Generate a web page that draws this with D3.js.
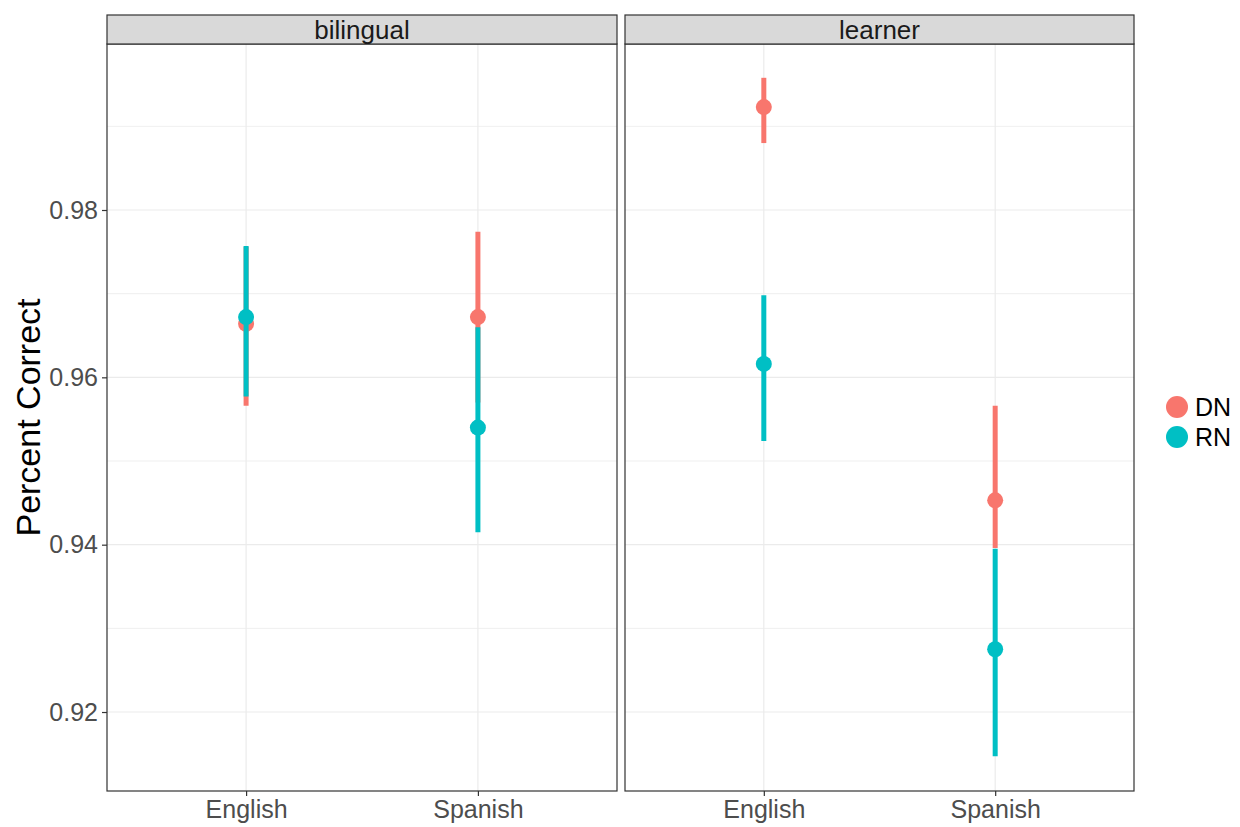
<!DOCTYPE html>
<html>
<head>
<meta charset="utf-8">
<script src="https://cdn.jsdelivr.net/npm/d3@7"></script>
<style>
  body { margin: 0; background: #fff; }
  svg { display: block; font-family: "Liberation Sans", Arial, sans-serif; }
</style>
</head>
<body>
<svg id="chart" width="1240" height="827"></svg>
<script>
// Facets, x categories and condition groups
const panels = ["bilingual", "learner"];
const languages = ["English", "Spanish"];
const conditions = ["DN", "RN"];
const yTicks = [0.92, 0.94, 0.96, 0.98];
const yMinor = [0.91, 0.93, 0.95, 0.97, 0.99];

// Mean percent correct with lower / upper interval, per panel, language, condition
const bilingualDN = [
  { lang: "English", mean: 0.9664, lo: 0.9566, hi: 0.9756 },
  { lang: "Spanish", mean: 0.9672, lo: 0.9570, hi: 0.9774 }
];
const bilingualRN = [
  { lang: "English", mean: 0.9672, lo: 0.9577, hi: 0.9757 },
  { lang: "Spanish", mean: 0.9540, lo: 0.9415, hi: 0.9660 }
];
const learnerDN = [
  { lang: "English", mean: 0.9923, lo: 0.9880, hi: 0.9958 },
  { lang: "Spanish", mean: 0.9453, lo: 0.9396, hi: 0.9566 }
];
const learnerRN = [
  { lang: "English", mean: 0.9616, lo: 0.9524, hi: 0.9698 },
  { lang: "Spanish", mean: 0.9275, lo: 0.9147, hi: 0.9395 }
];

const seriesByPanel = {
  bilingual: { DN: bilingualDN, RN: bilingualRN },
  learner: { DN: learnerDN, RN: learnerRN }
};

const colors = d3.scaleOrdinal().domain(conditions).range(["#F8766D", "#00BFC4"]);

const svg = d3.select("#chart");

const panelTop = 44, panelBottom = 791;
const stripTop = 15;
const panelX = { bilingual: [107, 617], learner: [625, 1134] };
const tickFont = 25;

const y = d3.scaleLinear()
  .domain([0.91056, 0.99984])
  .range([panelBottom, panelTop]);

panels.forEach((p, i) => {
  const [x0, x1] = panelX[p];
  // discrete axis with 0.6 of a step of space on each side
  const x = d3.scalePoint().domain(languages).range([x0, x1]).padding(0.6);

  const g = svg.append("g");

  // panel background
  g.append("rect")
    .attr("x", x0).attr("y", panelTop)
    .attr("width", x1 - x0).attr("height", panelBottom - panelTop)
    .attr("fill", "#fff");

  // minor grid
  g.selectAll(".ymin").data(yMinor.filter(v => y(v) > panelTop && y(v) < panelBottom))
    .join("line")
    .attr("x1", x0).attr("x2", x1)
    .attr("y1", d => y(d)).attr("y2", d => y(d))
    .attr("stroke", "#EBEBEB").attr("stroke-width", 0.8);

  // major grid
  g.selectAll(".ymaj").data(yTicks)
    .join("line")
    .attr("x1", x0).attr("x2", x1)
    .attr("y1", d => y(d)).attr("y2", d => y(d))
    .attr("stroke", "#EBEBEB").attr("stroke-width", 1.2);

  g.selectAll(".xmaj").data(languages)
    .join("line")
    .attr("x1", d => x(d)).attr("x2", d => x(d))
    .attr("y1", panelTop).attr("y2", panelBottom)
    .attr("stroke", "#EBEBEB").attr("stroke-width", 1.2);

  // point ranges: DN drawn first, RN on top
  conditions.forEach(c => {
    const data = seriesByPanel[p][c];
    const sg = g.append("g");
    data.forEach(d => {
      sg.append("line")
        .attr("x1", x(d.lang)).attr("x2", x(d.lang))
        .attr("y1", y(d.lo)).attr("y2", y(d.hi))
        .attr("stroke", colors(c)).attr("stroke-width", 5);
      sg.append("circle")
        .attr("cx", x(d.lang)).attr("cy", y(d.mean))
        .attr("r", 8)
        .attr("fill", colors(c));
    });
  });

  // panel border
  g.append("rect")
    .attr("x", x0).attr("y", panelTop)
    .attr("width", x1 - x0).attr("height", panelBottom - panelTop)
    .attr("fill", "none").attr("stroke", "#333").attr("stroke-width", 1.2);

  // strip
  g.append("rect")
    .attr("x", x0).attr("y", stripTop)
    .attr("width", x1 - x0).attr("height", panelTop - stripTop)
    .attr("fill", "#D9D9D9").attr("stroke", "#333").attr("stroke-width", 1.2);
  g.append("text")
    .attr("x", (x0 + x1) / 2).attr("y", (stripTop + panelTop) / 2)
    .attr("dy", "0.35em")
    .attr("text-anchor", "middle")
    .attr("font-size", 26)
    .attr("fill", "#1A1A1A")
    .text(p);

  // x axis
  const xAxis = d3.axisBottom(x).tickSize(5).tickPadding(4);
  const xa = g.append("g").attr("transform", `translate(0,${panelBottom})`).call(xAxis);
  xa.select(".domain").remove();
  xa.selectAll(".tick line").attr("stroke", "#333").attr("stroke-width", 1.2);
  xa.selectAll(".tick text").attr("font-size", tickFont).attr("fill", "#4D4D4D")
    .attr("font-family", "Liberation Sans, Arial, sans-serif");

  // y axis on first panel only
  if (i === 0) {
    const yAxis = d3.axisLeft(y).tickValues(yTicks).tickFormat(d3.format(".2f")).tickSize(5).tickPadding(4);
    const ya = g.append("g").attr("transform", `translate(${x0},0)`).call(yAxis);
    ya.select(".domain").remove();
    ya.selectAll(".tick line").attr("stroke", "#333").attr("stroke-width", 1.2);
    ya.selectAll(".tick text").attr("font-size", tickFont).attr("fill", "#4D4D4D")
      .attr("font-family", "Liberation Sans, Arial, sans-serif");
  }
});

// y axis title
svg.append("text")
  .attr("transform", `translate(40,${(panelTop + panelBottom) / 2}) rotate(-90)`)
  .attr("text-anchor", "middle")
  .attr("font-size", 34)
  .attr("fill", "#000")
  .text("Percent Correct");

// legend
const legend = svg.append("g").attr("transform", "translate(1177,407)");
conditions.forEach((c, k) => {
  const row = legend.append("g").attr("transform", `translate(0,${k * 30})`);
  row.append("circle").attr("r", 11).attr("fill", colors(c));
  row.append("text")
    .attr("x", 18).attr("dy", "0.36em")
    .attr("font-size", 25).attr("fill", "#000")
    .text(c);
});
</script>
</body>
</html>
